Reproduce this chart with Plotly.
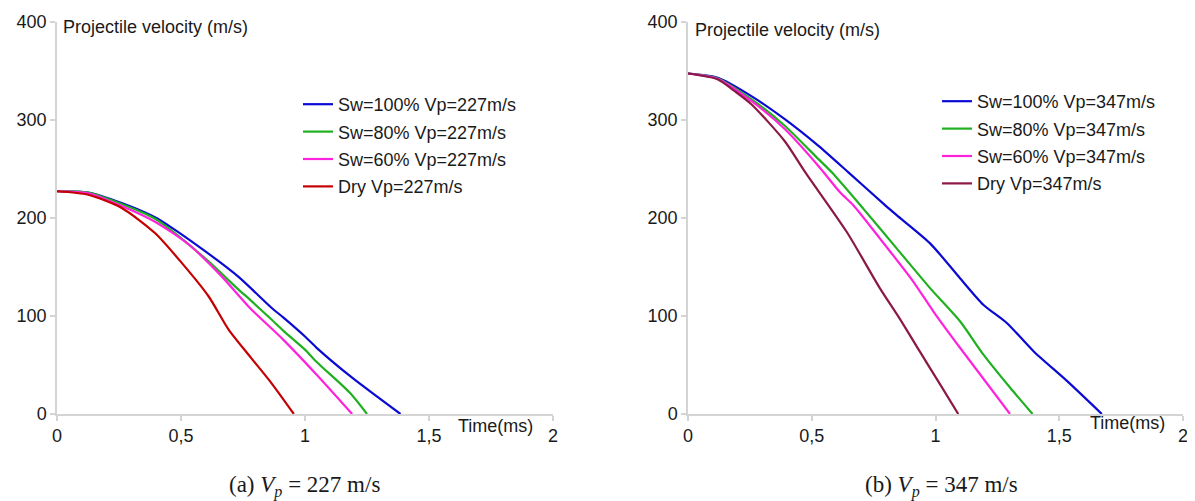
import plotly.graph_objects as go

# ---------------- data ----------------
# (a) Vp = 227 m/s
a_sw100_t = [0, 0.126, 0.261, 0.395, 0.462, 0.597, 0.731, 0.866, 0.912, 1.0, 1.047, 1.19, 1.385]
a_sw100_v = [227, 225.7, 215, 200.5, 190, 166, 140, 108, 98.5, 79, 67.4, 37, 0]

a_sw80_t = [0, 0.126, 0.261, 0.395, 0.462, 0.611, 0.731, 0.778, 0.866, 0.912, 1.0, 1.047, 1.181, 1.25]
a_sw80_v = [227, 225.7, 214, 199, 187, 155.5, 127, 116.5, 96, 85, 65.6, 53, 21.6, 0]

a_sw60_t = [0, 0.126, 0.261, 0.395, 0.53, 0.665, 0.778, 0.912, 1.047, 1.19]
a_sw60_v = [227, 225, 212, 196, 173, 140, 108, 75.8, 40, 0]

a_dry_t = [0, 0.126, 0.261, 0.395, 0.503, 0.611, 0.692, 0.78, 0.86, 0.955]
a_dry_v = [227, 223.4, 210, 184.4, 154, 120, 86, 58, 33, 0]

# (b) Vp = 347 m/s
b_sw100_t = [0, 0.121, 0.256, 0.391, 0.526, 0.647, 0.796, 0.843, 0.978, 1.099, 1.193, 1.288, 1.396, 1.531, 1.672]
b_sw100_v = [347, 342.7, 324, 300.5, 273.5, 246.5, 212.8, 202.6, 173.9, 138.4, 111.4, 92.8, 64, 33.7, 0]

b_sw80_t = [0, 0.121, 0.256, 0.391, 0.526, 0.58, 0.708, 0.843, 0.978, 1.099, 1.193, 1.301, 1.392]
b_sw80_v = [347, 342, 320.8, 293.8, 260, 246.5, 209.3, 168.8, 128.3, 94.5, 60.8, 27, 0]

b_sw60_t = [0, 0.121, 0.256, 0.391, 0.526, 0.614, 0.668, 0.775, 0.91, 0.991, 1.099, 1.301]
b_sw60_v = [347, 341.5, 319, 290.4, 253, 226, 212.8, 179, 135, 104.7, 67.5, 0]

b_dry_t = [0, 0.121, 0.189, 0.256, 0.391, 0.472, 0.641, 0.775, 0.856, 0.937, 1.018, 1.092]
b_dry_v = [347, 341, 329, 315.7, 278, 247, 185.7, 128.3, 97, 63.5, 30.4, 0]

names_a = ["Sw=100% Vp=227m/s", "Sw=80% Vp=227m/s", "Sw=60% Vp=227m/s", "Dry Vp=227m/s"]
names_b = ["Sw=100% Vp=347m/s", "Sw=80% Vp=347m/s", "Sw=60% Vp=347m/s", "Dry Vp=347m/s"]
colors_a = ["#0a0ad2", "#1fb01f", "#ff22dd", "#c40000"]
colors_b = ["#0a0ad2", "#1fb01f", "#ff22dd", "#8c1845"]

x_tickvals = [0, 0.5, 1, 1.5, 2]
x_ticktext = ["0", "0,5", "1", "1,5", "2"]
y_tickvals = [0, 100, 200, 300, 400]

# ---------------- figure ----------------
PAGE_OFF = 8              # default body margin of the html page
W, H = 1195 - PAGE_OFF, 501 - PAGE_OFF
FONT = "Liberation Sans, Arial, sans-serif"
fig = go.Figure()

series_a = [(a_sw100_t, a_sw100_v), (a_sw80_t, a_sw80_v), (a_sw60_t, a_sw60_v), (a_dry_t, a_dry_v)]
series_b = [(b_sw100_t, b_sw100_v), (b_sw80_t, b_sw80_v), (b_sw60_t, b_sw60_v), (b_dry_t, b_dry_v)]

for i, ((t, v), name, col) in enumerate(zip(series_a, names_a, colors_a)):
    fig.add_trace(go.Scatter(x=t, y=v, mode="lines", name=name,
                             line=dict(color=col, width=2.2, shape="spline", smoothing=0.7),
                             xaxis="x", yaxis="y", legend="legend",
                             legendgroup="a%d" % i))
for i, ((t, v), name, col) in enumerate(zip(series_b, names_b, colors_b)):
    fig.add_trace(go.Scatter(x=t, y=v, mode="lines", name=name,
                             line=dict(color=col, width=2.2, shape="spline", smoothing=0.7),
                             xaxis="x2", yaxis="y2", legend="legend2",
                             legendgroup="b%d" % i))

# convert page pixel positions (as measured in the reference) to paper fractions
def px_x(p):
    return (p - PAGE_OFF) / W

def px_y(p):
    return 1 - (p - PAGE_OFF) / H

axis_common = dict(showgrid=False, zeroline=False, showline=True, linecolor="#d4d4d4",
                   linewidth=1.5, ticks="outside", ticklen=5, tickcolor="#d4d4d4",
                   tickwidth=1.5, automargin=False,
                   tickfont=dict(family=FONT, size=18, color="#1a1a1a"))

ydom = [px_y(414), px_y(21.5)]
fig.update_layout(
    width=W, height=H, margin=dict(l=0, r=0, t=0, b=0, autoexpand=False),
    paper_bgcolor="white", plot_bgcolor="white",
    xaxis=dict(domain=[px_x(57), px_x(553)], range=[0, 2], tickvals=x_tickvals,
               ticktext=x_ticktext, anchor="y", **axis_common),
    yaxis=dict(domain=ydom, range=[0, 400], tickvals=y_tickvals, anchor="x", **axis_common),
    xaxis2=dict(domain=[px_x(688), px_x(1183)], range=[0, 2], tickvals=x_tickvals,
                ticktext=x_ticktext, anchor="y2", **axis_common),
    yaxis2=dict(domain=ydom, range=[0, 400], tickvals=y_tickvals, anchor="x2", **axis_common),
    legend=dict(x=px_x(298), y=px_y(86), xanchor="left", yanchor="top",
                font=dict(family=FONT, size=18, color="#1a1a1a"),
                bgcolor="rgba(0,0,0,0)", tracegroupgap=1, itemwidth=30),
    legend2=dict(x=px_x(937), y=px_y(83), xanchor="left", yanchor="top",
                 font=dict(family=FONT, size=18, color="#1a1a1a"),
                 bgcolor="rgba(0,0,0,0)", tracegroupgap=1, itemwidth=30),
    showlegend=True,
)

ann_font = dict(family=FONT, size=18, color="#1a1a1a")
cap_font = dict(family="Liberation Serif, DejaVu Serif, serif", size=23, color="#1a1a1a")
annotations = [
    dict(text="Projectile velocity (m/s)", x=px_x(61), y=px_y(27), xanchor="left", yanchor="middle", font=ann_font),
    dict(text="Projectile velocity (m/s)", x=px_x(693), y=px_y(30), xanchor="left", yanchor="middle", font=ann_font),
    dict(text="Time(ms)", x=px_x(495), y=px_y(426), xanchor="center", yanchor="middle", font=ann_font),
    dict(text="Time(ms)", x=px_x(1127), y=px_y(423), xanchor="center", yanchor="middle", font=ann_font),
    dict(text="(a) <i>V</i><sub><i>p</i></sub> = 227 m/s", x=px_x(305), y=px_y(486),
         xanchor="center", yanchor="middle", font=cap_font),
    dict(text="(b) <i>V</i><sub><i>p</i></sub> = 347 m/s", x=px_x(941), y=px_y(486),
         xanchor="center", yanchor="middle", font=cap_font),
]
for a in annotations:
    a.update(xref="paper", yref="paper", showarrow=False)
fig.update_layout(annotations=annotations)

fig.write_html("out.html")
